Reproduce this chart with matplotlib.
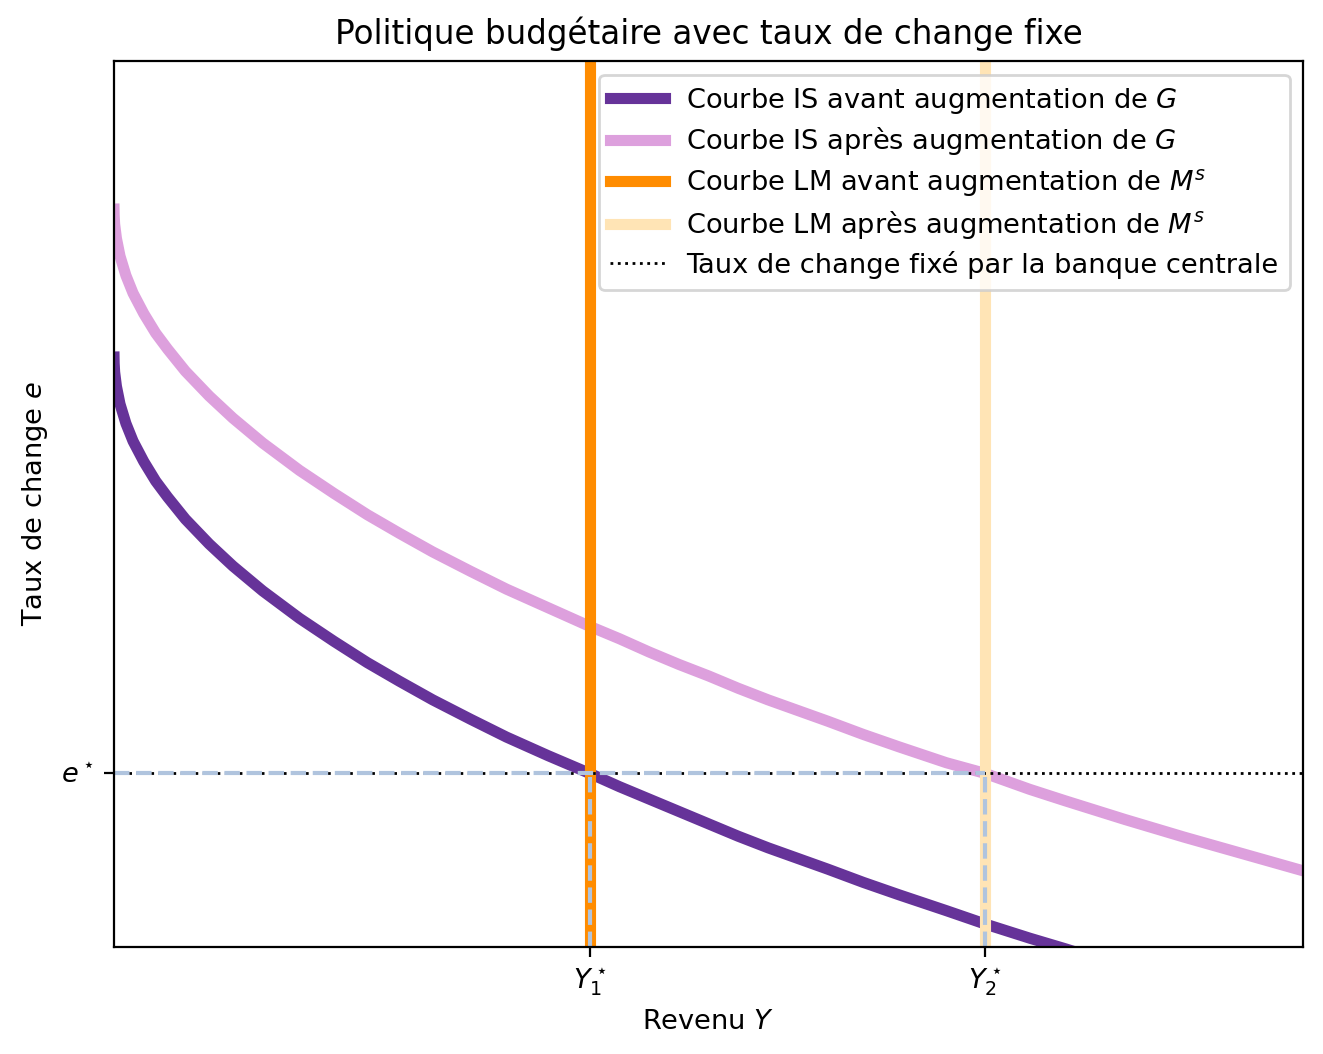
import numpy as np
import matplotlib
matplotlib.use("Agg")
import matplotlib.pyplot as plt

# ── DONNÉES ─────────────────────────────────────────────────────────────────
# Courbe IS avant augmentation de G
is_avant_y = [0.0, 0.01, 0.05, 0.2, 0.5, 1.0, 1.6, 2.5, 3.5, 4.5, 6.0, 8.0,
              10.0, 12.5, 15.6, 18.5, 21.3, 24.0, 26.8, 30.0, 33.0, 36.5,
              40.0, 42.5, 45.0, 47.5, 50.0, 52.5, 55.0, 57.5, 60.0, 63.0,
              66.0, 70.0, 73.25, 77.0, 80.0, 85.0]
is_avant_e = [6.66, 6.59, 6.49, 6.33, 6.13, 5.91, 5.71, 5.48, 5.26, 5.08,
              4.83, 4.55, 4.30, 4.02, 3.71, 3.45, 3.21, 3.00, 2.79, 2.57,
              2.37, 2.16, 1.96, 1.81, 1.67, 1.53, 1.39, 1.25, 1.12, 1.00,
              0.88, 0.73, 0.59, 0.41, 0.26, 0.10, -0.02, -0.23]

# Courbe IS après augmentation de G
is_apres_y = [0.0, 0.01, 0.05, 0.2, 0.5, 1.0, 1.6, 2.5, 3.5, 4.5, 6.0, 8.0,
              10.0, 12.5, 15.6, 18.5, 21.3, 24.0, 26.8, 30.0, 33.0, 36.5,
              40.0, 42.5, 45.0, 47.5, 50.0, 52.5, 55.0, 57.5, 60.0, 63.0,
              66.0, 70.0, 73.25, 77.0, 80.0, 85.0, 90.0, 95.0, 100.0]
is_apres_e = [8.33, 8.26, 8.16, 8.00, 7.80, 7.58, 7.38, 7.15, 6.93, 6.75,
              6.50, 6.22, 5.97, 5.69, 5.38, 5.12, 4.88, 4.67, 4.46, 4.24,
              4.04, 3.83, 3.62, 3.48, 3.33, 3.19, 3.06, 2.92, 2.79, 2.67,
              2.55, 2.40, 2.26, 2.08, 1.96, 1.78, 1.65, 1.44, 1.24, 1.05,
              0.86]

Y1 = 40.0      # équilibre avant
Y2 = 73.25     # équilibre après
E_STAR = 1.96  # taux de change fixé

# ── FIGURE ──────────────────────────────────────────────────────────────────
plt.rcParams['font.size'] = 9.8

fig = plt.figure(figsize=(6.615, 5.27), dpi=200)
ax = fig.add_axes([0.0862, 0.1015, 0.8988, 0.8405])

ax.plot(is_avant_y, is_avant_e, color='rebeccapurple', lw=4,
        label='Courbe IS avant augmentation de $G$')
ax.plot(is_apres_y, is_apres_e, color='plum', lw=4,
        label='Courbe IS après augmentation de $G$')
ax.axvline(Y1, color='darkorange', lw=4,
           label='Courbe LM avant augmentation de $M^s$')
ax.axvline(Y2, color='moccasin', lw=4,
           label='Courbe LM après augmentation de $M^s$')
ax.axhline(E_STAR, color='black', ls=':', lw=1,
           label='Taux de change fixé par la banque centrale')

# pointillés de repère
ax.plot([0, Y2], [E_STAR, E_STAR], color='lightsteelblue', ls='--', lw=1.5)
ax.plot([Y1, Y1], [0, E_STAR], color='lightsteelblue', ls='--', lw=1.5)
ax.plot([Y2, Y2], [0, E_STAR], color='lightsteelblue', ls='--', lw=1.5)

ax.set_xlim(0, 100)
ax.set_ylim(0, 10)
ax.set_xticks([Y1, Y2])
ax.set_xticklabels([r'$Y_1^\star$', r'$Y_2^\star$'])
ax.set_yticks([E_STAR])
ax.set_yticklabels([r'$e^\star$'])

ax.set_xlabel('Revenu $Y$')
ax.set_ylabel('Taux de change $e$')
ax.set_title('Politique budgétaire avec taux de change fixe')
ax.legend(loc='upper right', labelspacing=0.36)

fig.savefig('out.png', dpi=200)
